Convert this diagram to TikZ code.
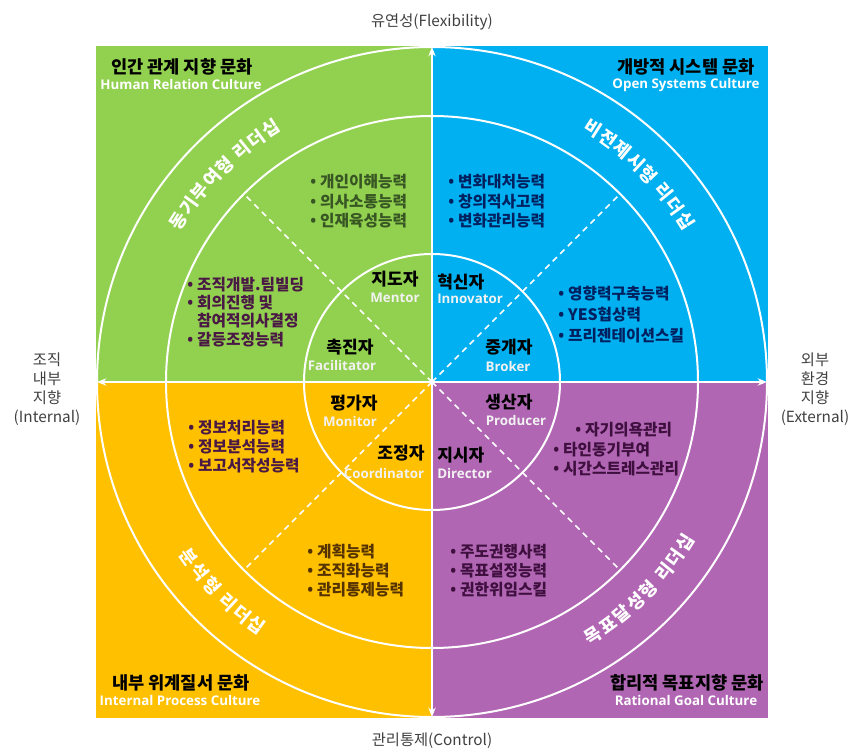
\documentclass[tikz,border=0pt]{standalone}
\usepackage{fontspec}
\setmainfont{Noto Sans CJK KR}
\newfontfamily\en{Open Sans}
\usetikzlibrary{arrows.meta}
\definecolor{qgreen}{HTML}{92D050}
\definecolor{qblue}{HTML}{00B0F0}
\definecolor{qyellow}{HTML}{FFC000}
\definecolor{qpurple}{HTML}{B066B3}
\definecolor{axisgray}{HTML}{404040}
\definecolor{lgreen}{HTML}{375623}
\definecolor{lmaroon}{HTML}{4A1845}
\definecolor{lnavy}{HTML}{002060}
\definecolor{lbrown}{HTML}{553300}
\definecolor{lplum}{HTML}{3F0F3F}
\definecolor{roleen}{HTML}{F2F2F2}
\newcommand\bul{{\en\char"2022}\hspace{3pt}}
\begin{document}
\begin{tikzpicture}[x=0.75pt,y=-0.75pt,
  title/.style={font=\bfseries\fontsize{13.2}{15}\selectfont, text=black, inner sep=0},
  sub/.style={font=\en\bfseries\fontsize{10}{12}\selectfont, text=white, inner sep=0},
  rolekr/.style={font=\bfseries\fontsize{12.8}{14}\selectfont, text=black, inner sep=0},
  roleen/.style={font=\en\bfseries\fontsize{10}{11}\selectfont, text=roleen, inner sep=0},
  item/.style={font=\bfseries\fontsize{11.8}{13}\selectfont, anchor=west, inner sep=0},
  axlabel/.style={font=\fontsize{11.5}{14.3}\selectfont, text=axisgray, inner sep=0, align=center},
  lead/.style={font=\bfseries\fontsize{13.5}{15}\selectfont, text=white, inner sep=0},
  ring/.style={draw=white, line width=1.5pt},
  diag/.style={draw=white, line width=1.1pt, dash pattern=on 4.5pt off 3.5pt},
  axisline/.style={draw=white, line width=1.6pt, {Stealth[length=7pt,width=5.5pt]}-{Stealth[length=7pt,width=5.5pt]}}
]
\useasboundingbox (0,0) rectangle (849,756);
% quadrants
\fill[qgreen] (96,46) rectangle (432,382);
\fill[qblue] (432,46) rectangle (768,382);
\fill[qyellow] (96,382) rectangle (432,718);
\fill[qpurple] (432,382) rectangle (768,718);
\coordinate (O) at (432,382);
% rings
\begin{scope}
\clip (96,46) rectangle (768,718);
\draw[ring] (O) circle[radius=251.25pt];
\draw[ring] (O) circle[radius=199.5pt];
\draw[ring] (O) circle[radius=96pt];
\end{scope}
% dashed diagonals
\coordinate (dNW) at (243.9,193.9);
\coordinate (dNE) at (620.1,193.9);
\coordinate (dSW) at (243.9,570.1);
\coordinate (dSE) at (620.1,570.1);
\draw[diag] (O) -- (dNW);
\draw[diag] (O) -- (dNE);
\draw[diag] (O) -- (dSW);
\draw[diag] (O) -- (dSE);
% axes
\coordinate (axT) at (432,47);
\coordinate (axB) at (432,717);
\coordinate (axL) at (97,382);
\coordinate (axR) at (767,382);
\draw[axisline] (axB) -- (axT);
\draw[axisline] (axL) -- (axR);
% axis labels
\node[axlabel] (flex) at (432,22) {유연성(Flexibility)};
\node[axlabel] (ctrl) at (432,741) {관리통제(Control)};
\node[axlabel] (intl) at (47,389) {조직\\내부\\지향\\(Internal)};
\node[axlabel] (extl) at (815,389) {외부\\환경\\지향\\(External)};
% quadrant titles
\node[title] (hrT) at (182,67) {인간 관계 지향 문화};
\node[sub] (hrE) at (181,85) {Human Relation Culture};
\node[title] (osT) at (686,67) {개방적 시스템 문화};
\node[sub] (osE) at (686,85) {Open Systems Culture};
\node[title] (ipT) at (181,683) {내부 위계질서 문화};
\node[sub] (ipE) at (180,700) {Internal Process Culture};
\node[title] (rgT) at (687,683) {합리적 목표지향 문화};
\node[sub] (rgE) at (686,700) {Rational Goal Culture};
% leadership labels along the band
\foreach \ch/\off [count=\i] in {동/-3.65,기/-2.65,부/-1.65,여/-0.65,형/0.35,리/1.65,더/2.65,십/3.65}{
  \pgfmathsetmacro\a{135-\off*3.45}
  \node[lead, rotate=\a-90] (ldA\i) at ({432+300*cos(\a)},{382-300*sin(\a)}) {\ch};
}
\foreach \ch/\off [count=\i] in {비/-3.65,전/-2.65,제/-1.65,시/-0.65,형/0.35,리/1.65,더/2.65,십/3.65}{
  \pgfmathsetmacro\a{45-\off*3.45}
  \node[lead, rotate=\a-90] (ldB\i) at ({432+300*cos(\a)},{382-300*sin(\a)}) {\ch};
}
\foreach \ch/\off [count=\i] in {분/-2.65,석/-1.65,형/-0.65,리/0.65,더/1.65,십/2.65}{
  \pgfmathsetmacro\a{225+\off*3.45}
  \node[lead, rotate=\a+90] (ldC\i) at ({432+300*cos(\a)},{382-300*sin(\a)}) {\ch};
}
\foreach \ch/\off [count=\i] in {목/-3.65,표/-2.65,달/-1.65,성/-0.65,형/0.35,리/1.65,더/2.65,십/3.65}{
  \pgfmathsetmacro\a{315+\off*3.45}
  \node[lead, rotate=\a+90] (ldD\i) at ({432+300*cos(\a)},{382-300*sin(\a)}) {\ch};
}
% roles
\node[rolekr] (mentK) at (395,279) {지도자};
\node[roleen] (mentE) at (395,298) {Mentor};
\node[rolekr, anchor=west] (innoK) at (437,282) {혁신자};
\node[roleen, anchor=west] (innoE) at (437,299) {Innovator};
\node[rolekr] (faciK) at (350,347) {촉진자};
\node[roleen] (faciE) at (342,365) {Facilitator};
\node[rolekr] (brokK) at (509,347) {중개자};
\node[roleen] (brokE) at (508,366) {Broker};
\node[rolekr] (moniK) at (354,403) {평가자};
\node[roleen] (moniE) at (350,421) {Monitor};
\node[rolekr] (prodK) at (509,402) {생산자};
\node[roleen] (prodE) at (516,420) {Producer};
\node[rolekr] (coorK) at (401,453) {조정자};
\node[roleen] (coorE) at (384,473) {Coordinator};
\node[rolekr, anchor=west] (direK) at (437,455) {지시자};
\node[roleen, anchor=west] (direE) at (437,473) {Director};
% competency lists
\node[item, text=lgreen] (g1) at (310,182) {\bul 개인이해능력};
\node[item, text=lgreen] (g2) at (310,202) {\bul 의사소통능력};
\node[item, text=lgreen] (g3) at (310,221) {\bul 인재육성능력};
\node[item, text=lnavy] (b1) at (448,182) {\bul 변화대처능력};
\node[item, text=lnavy] (b2) at (448,202) {\bul 창의적사고력};
\node[item, text=lnavy] (b3) at (448,221) {\bul 변화관리능력};
\node[item, text=lmaroon] (h1) at (187,285) {\bul 조직개발.팀빌딩};
\node[item, text=lmaroon] (h2) at (187,303) {\bul 회의진행 및};
\node[item, text=lmaroon] (h3) at (187,321) {\hphantom{\bul}참여적의사결정};
\node[item, text=lmaroon] (h4) at (187,340) {\bul 갈등조정능력};
\node[item, text=lnavy] (o1) at (558,294) {\bul 영향력구축능력};
\node[item, text=lnavy] (o2) at (558,315) {\bul YES협상력};
\node[item, text=lnavy] (o3) at (558,336) {\bul 프리젠테이션스킬};
\node[item, text=lmaroon] (y1) at (188,428) {\bul 정보처리능력};
\node[item, text=lmaroon] (y2) at (188,447) {\bul 정보분석능력};
\node[item, text=lmaroon] (y3) at (188,466) {\bul 보고서작성능력};
\node[item, text=lplum] (p1) at (575,430) {\bul 자기의욕관리};
\node[item, text=lplum] (p2) at (553,450) {\bul 타인동기부여};
\node[item, text=lplum] (p3) at (553,469) {\bul 시간스트레스관리};
\node[item, text=lbrown] (c1) at (307,552) {\bul 계획능력};
\node[item, text=lbrown] (c2) at (307,571) {\bul 조직화능력};
\node[item, text=lbrown] (c3) at (307,590) {\bul 관리통제능력};
\node[item, text=lplum] (r1) at (450,552) {\bul 주도권행사력};
\node[item, text=lplum] (r2) at (450,571) {\bul 목표설정능력};
\node[item, text=lplum] (r3) at (450,590) {\bul 권한위임스킬};
\end{tikzpicture}
\end{document}
